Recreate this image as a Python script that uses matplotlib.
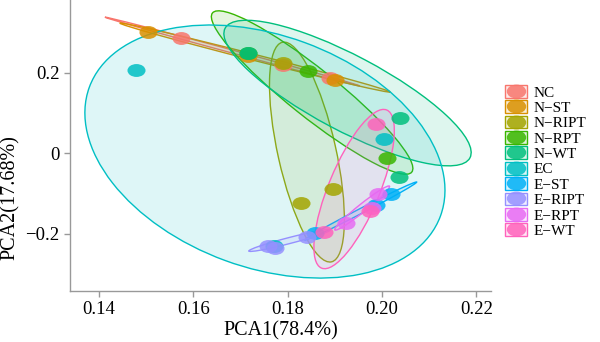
import numpy as np
import matplotlib
matplotlib.use("Agg")
import matplotlib.pyplot as plt
from matplotlib.patches import Ellipse, Rectangle
from matplotlib.lines import Line2D
from matplotlib.path import Path
from matplotlib.legend_handler import HandlerTuple
import matplotlib.transforms as mtransforms

plt.rcParams['font.family'] = ['Liberation Serif', 'DejaVu Serif']

# groups and colours (ggplot hue palette)
groups = ['NC', 'N−ST', 'N−RIPT', 'N−RPT', 'N−WT', 'EC', 'E−ST', 'E−RIPT', 'E−RPT', 'E−WT']
colors = ['#F8766D', '#D89000', '#A3A500', '#39B600', '#00BF7D',
          '#00BFC4', '#00B0F6', '#9590FF', '#E76BF3', '#FF62BC']

# PCA scores, three samples per group
pc1 = [
    [0.1574, 0.1790, 0.1889],
    [0.1504, 0.1716, 0.1900],
    [0.1790, 0.1828, 0.1896],
    [0.1716, 0.1843, 0.2010],
    [0.1716, 0.2038, 0.2036],
    [0.1771, 0.1478, 0.2004],
    [0.1858, 0.1987, 0.2019],
    [0.1758, 0.1773, 0.1841],
    [0.1991, 0.1978, 0.1923],
    [0.1987, 0.1974, 0.1877],
]
pc2 = [
    [0.2865, 0.2194, 0.1871],
    [0.3014, 0.2425, 0.1814],
    [0.2243, -0.1235, -0.0887],
    [0.2492, 0.2045, -0.0117],
    [0.2492, 0.0877, -0.0589],
    [-0.2303, 0.2069, 0.0355],
    [-0.1980, -0.1285, -0.1011],
    [-0.2303, -0.2353, -0.2080],
    [-0.1011, -0.1359, -0.1732],
    [0.0726, -0.1434, -0.1955],
]

# confidence ellipses: centre (data), axes (px), angle (deg)
ell_cx = [0.1683, 0.1731, 0.1841, 0.1852, 0.1927, 0.1752, 0.1955, 0.1804, 0.1958, 0.1941]
ell_cy = [0.2529, 0.2380, 0.0032, 0.1511, 0.1498, 0.0045, -0.1434, -0.2166, -0.1359, -0.0887]
ell_w = [264, 279, 225, 255, 277, 374, 126, 84, 70, 171]
ell_h = [3, 6, 58, 48, 75, 232, 5, 6, 8, 51]
ell_ang = [-15.1, -14.3, -77.4, -38.6, -27.9, -20.15, 27.4, 14.5, 38.7, 67.6]

# oval point marker
circ = Path.unit_circle()
oval = Path(circ.vertices * np.array([1.4, 1.0]), circ.codes)

fig = plt.figure(figsize=(6, 3.42), dpi=100)
ax = fig.add_axes([70 / 600, 51 / 342, 421 / 600, 291 / 342])

for i in range(len(groups)):
    trans = fig.dpi_scale_trans + mtransforms.ScaledTranslation(ell_cx[i], ell_cy[i], ax.transData)
    ax.add_patch(Ellipse((0, 0), ell_w[i] / 100, ell_h[i] / 100, angle=ell_ang[i],
                         transform=trans, facecolor=colors[i], alpha=0.13, edgecolor='none'))
    ax.add_patch(Ellipse((0, 0), ell_w[i] / 100, ell_h[i] / 100, angle=ell_ang[i],
                         transform=trans, facecolor='none', edgecolor=colors[i], lw=1.0))

for i in range(len(groups)):
    ax.plot(pc1[i], pc2[i], linestyle='none', marker=oval, ms=13,
            color=colors[i], alpha=0.85, mec='none')

ax.set_xlim(0.1339, 0.2231)
ax.set_ylim(-0.342, 0.381)
ax.set_xticks([0.14, 0.16, 0.18, 0.20, 0.22])
ax.set_xticklabels(['0.14', '0.16', '0.18', '0.20', '0.22'])
ax.set_yticks([-0.2, 0, 0.2])
ax.set_yticklabels(['−0.2', '0', '0.2'])
for s in ['top', 'right']:
    ax.spines[s].set_visible(False)
for s in ['left', 'bottom']:
    ax.spines[s].set_color('#999999')
    ax.spines[s].set_linewidth(1.0)
ax.tick_params(colors='#999999', labelcolor='black', labelsize=13.5, length=4, width=1)
ax.set_xlabel('PCA1(78.4%)', fontsize=14.5, labelpad=2)
ax.set_ylabel('PCA2(17.68%)', fontsize=14.5)
ax.yaxis.set_label_coords(-0.118, 0.32)

handles = []
for c in colors:
    box = Rectangle((0, 0), 1, 1, facecolor=matplotlib.colors.to_rgba(c, 0.15), edgecolor=c, lw=1.0)
    pt = Line2D([], [], linestyle='none', marker=oval, ms=14, color=c, alpha=0.85, mec='none')
    handles.append((box, pt))
leg = ax.legend(handles, groups, handler_map={tuple: HandlerTuple(ndivide=1, pad=0)},
                loc='upper left', bbox_to_anchor=(1.033, 0.708), frameon=False,
                fontsize=11, handlelength=1.45, handleheight=0.9, labelspacing=0.05,
                handletextpad=0.4, borderaxespad=0, borderpad=0)

fig.savefig('out.png', dpi=100)
